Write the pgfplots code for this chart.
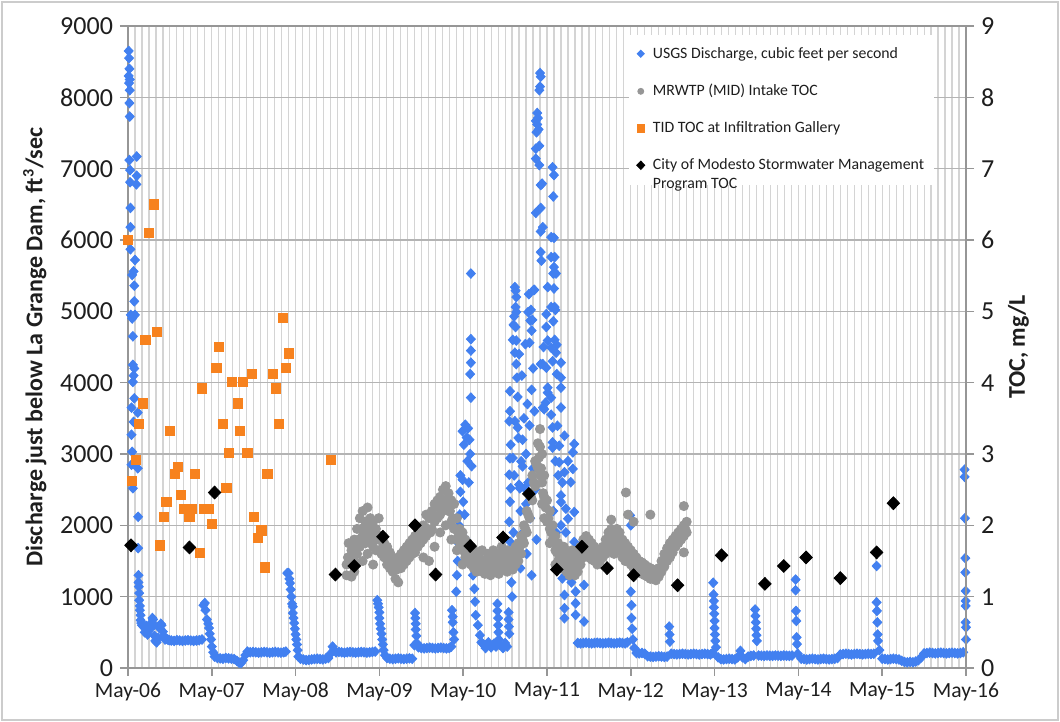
\documentclass[border=0pt]{standalone}
\usepackage{fontspec}
\setmainfont{Carlito}
\usepackage{pgfplots}
\pgfplotsset{compat=1.18}
\definecolor{usgs}{RGB}{66,128,240}
\definecolor{mrwtp}{RGB}{150,150,150}
\definecolor{tid}{RGB}{247,130,30}
\definecolor{gridmin}{RGB}{212,212,212}
\definecolor{gridmaj}{RGB}{180,180,180}
\definecolor{axc}{RGB}{150,150,150}
\definecolor{txt}{RGB}{30,30,30}

\pgfplotstableread{
m v
0.1 8650
0.15 8550
0.2 8400
0.1 8300
0.25 8250
0.15 8200
0.25 8100
0.2 7920
0.25 7730
0.2 7120
1.25 7170
0.3 6980
1.25 6900
0.3 6810
1.2 6780
0.35 6450
0.35 6180
0.35 5870
1.0 5720
0.8 5560
0.6 5510
0.9 5360
0.9 5140
0.4 4950
1.0 4950
0.6 4900
0.7 4650
0.7 4250
0.9 4200
0.8 4100
0.7 4010
0.9 3780
0.5 3650
1.4 3580
0.8 3450
0.5 3270
0.6 3030
0.5 2850
1.4 2800
0.7 2520
1.45 2120
1.45 1680
1.5 1300
1.5 1200
1.55 1140
1.6 1050
1.6 950
1.7 870
1.7 810
1.8 740
1.8 670
1.9 630
2.0 600
2.2 580
2.4 560
2.4 500
2.6 590
2.8 540
2.8 470
3.0 520
3.2 560
3.4 640
3.5 700
3.6 680
3.7 600
3.8 450
3.9 380
4.1 360
4.3 420
4.5 560
4.7 620
4.8 600
5.0 510
5.1 450
5.3 400
5.5 410
5.7 400
5.9 390
6.2 385
6.6 380
7.0 390
7.4 385
7.8 380
8.2 385
8.6 390
9.0 385
9.4 380
9.8 385
10.2 390
10.6 400
10.8 880
11.0 910
11.1 810
11.3 680
11.5 620
11.6 560
11.7 480
11.9 400
12.0 300
12.2 220
12.4 160
12.8 140
13.2 135
13.6 130
14.0 140
14.4 135
14.8 130
15.2 125
15.6 100
15.9 75
16.2 70
16.5 110
16.8 180
17.1 230
17.5 220
17.9 225
18.3 220
18.7 215
19.1 220
19.5 225
19.9 220
20.3 215
20.7 220
21.1 225
21.5 220
21.9 215
22.3 220
22.6 230
22.8 1330
23.0 1330
23.1 1250
23.2 1190
23.3 1100
23.4 1000
23.5 900
23.6 860
23.6 770
23.7 700
23.8 630
23.9 550
24.0 470
24.1 400
24.2 330
24.3 250
24.4 160
24.7 130
25.1 120
25.5 110
25.9 115
26.3 120
26.7 125
27.1 130
27.5 125
27.9 120
28.3 130
28.7 140
29.0 200
29.3 300
29.5 250
29.8 220
30.2 225
30.6 220
31.0 215
31.4 220
31.8 225
32.2 220
32.6 215
33.0 220
33.4 225
33.8 220
34.2 215
34.6 220
35.0 225
35.4 230
35.7 950
35.8 900
35.9 850
36.0 780
36.0 700
36.1 620
36.2 550
36.3 480
36.4 400
36.5 330
36.6 250
36.8 180
37.1 140
37.5 130
37.9 125
38.3 130
38.7 135
39.1 130
39.5 125
39.9 130
40.3 135
40.7 130
41.0 320
41.1 770
41.15 700
41.2 620
41.2 540
41.3 450
41.35 350
41.6 290
42.0 280
42.4 275
42.8 280
43.2 285
43.6 280
44.0 275
44.4 280
44.8 285
45.2 280
45.6 275
46.0 280
46.3 300
46.4 810
46.5 720
46.5 640
46.6 500
46.7 400
47.0 1070
47.1 1300
47.2 1500
47.3 1750
47.4 2000
47.5 2150
47.6 2470
47.6 2700
47.9 2640
48.0 2330
47.8 1900
48.2 2150
47.9 3320
48.1 3130
48.3 3410
48.5 3230
48.7 3360
48.9 3200
48.6 2900
49.0 3000
49.2 2830
48.8 2600
48.4 1800
49.1 5530
49.1 4610
49.1 4450
49.1 4280
49.0 4120
49.1 3790
49.3 1600
49.4 1300
49.6 1110
49.7 930
49.8 740
50.1 600
50.4 460
50.6 360
50.9 330
51.2 280
51.6 360
52.0 290
52.4 340
52.7 300
52.9 900
52.9 800
53.0 700
53.0 600
53.05 500
53.1 400
53.3 320
53.7 280
54.0 350
54.3 300
54.5 780
54.5 680
54.55 580
54.6 480
54.6 1440
54.7 1770
54.6 2050
54.7 2330
54.8 2520
54.6 2710
54.7 2940
54.8 3130
54.6 3460
54.7 3600
54.7 3880
54.9 1200
55.0 1000
55.0 1600
55.2 1900
55.4 5340
55.5 5290
55.6 5200
55.5 5060
55.6 4990
55.5 4780
55.6 4590
55.2 4810
55.3 4930
55.4 4420
55.6 4260
55.7 4070
55.1 4600
55.8 3800
55.4 3460
55.8 3370
55.9 3225
55.1 2944
56.0 2570
56.1 2520
55.3 2700
56.3 2897
56.5 2826
56.8 2520
56.9 4540
57.4 5240
57.6 4870
57.3 4990
57.8 4730
57.7 5020
57.9 4880
57.5 4560
58.1 5300
56.5 3200
56.7 3500
57.0 3000
57.2 3700
57.5 3400
57.8 3900
58.0 4200
58.2 3600
56.2 2200
56.6 1900
57.0 2300
57.3 2600
57.6 2100
58.0 2800
58.3 2500
56.4 4100
56.0 4400
56.2 1400
57.1 1600
57.8 1300
58.5 1800
58.6 7780
58.7 7710
58.4 7670
58.6 7620
58.5 7510
58.8 7550
58.4 7280
58.9 7320
58.4 7140
58.9 7050
58.4 6380
59.0 8340
59.1 8290
59.0 8150
58.9 8100
59.1 6770
59.1 6450
59.1 6120
59.1 5830
59.2 5710
59.1 4260
58.2 5300
59.3 6790
59.4 6180
60.8 7020
61.0 6910
60.9 6610
61.0 6030
61.1 5760
61.0 5620
60.9 5530
61.3 5530
61.0 5320
61.1 5060
61.2 5020
60.9 4860
61.1 4600
61.4 4530
61.3 4420
60.8 4300
61.4 4120
60.6 6040
60.6 5760
60.1 5340
60.6 5060
59.9 4960
59.9 4780
60.1 4590
60.6 4490
59.4 4260
59.9 4210
60.1 3930
60.6 3790
59.4 3650
60.6 3550
60.8 3090
59.5 4500
60.1 3860
59.8 3720
59.6 3628
60.8 3372
61.5 3395
60.8 3163
61.75 3116
62.5 3256
63.9 3140
63.7 3023
61.75 2884
62.5 2744
63.7 2791
63.4 2605
62.0 2419
62.0 2326
62.7 2233
63.9 2186
63.0 2093
63.9 1767
62.2 1256
62.5 1023
64.1 1070
65.3 1163
62.5 837
62.5 698
64.1 744
65.3 651
64.1 907
62.0 4070
62.0 3930
62.0 3651
62.2 2600
63.0 2900
62.7 1900
63.2 1500
62.9 1300
63.5 1200
62.4 1600
62.0 2000
61.6 2700
61.2 2900
60.9 2200
61.3 1900
62.0 4280
64.4 350
64.8 345
65.2 350
65.6 355
66.0 350
66.4 345
66.8 350
67.2 355
67.6 350
68.0 345
68.4 350
68.8 355
69.2 350
69.6 345
70.0 350
70.4 355
70.8 350
71.2 345
71.5 360
71.9 2140
72.0 2000
72.0 1070
72.1 880
72.1 700
72.2 550
72.3 400
72.5 280
72.8 210
73.2 205
73.6 210
74.0 200
74.4 165
74.8 160
75.2 155
75.6 160
76.0 165
76.4 160
76.8 155
77.2 160
77.5 580
77.55 470
77.6 370
77.8 200
78.2 195
78.6 190
79.0 195
79.4 200
79.8 195
80.2 190
80.6 195
81.0 200
81.4 195
81.8 190
82.2 195
82.6 200
83.0 195
83.4 190
83.7 210
83.8 1195
83.85 1030
83.9 940
83.9 850
83.95 760
84.0 660
84.0 560
84.05 470
84.1 380
84.2 290
84.5 150
84.9 125
85.3 120
85.7 125
86.1 130
86.5 125
86.9 120
87.3 150
87.7 240
88.0 150
88.4 125
88.8 160
89.2 170
89.6 175
89.8 820
89.85 730
89.9 640
89.95 550
90.0 460
90.05 380
90.3 175
90.7 172
91.1 170
91.5 175
91.9 172
92.3 170
92.7 175
93.1 172
93.5 170
93.9 175
94.3 172
94.7 170
95.1 175
95.6 1240
95.6 1090
95.65 800
95.7 660
95.75 430
95.8 335
95.9 200
96.4 130
96.8 125
97.2 120
97.6 125
98.0 130
98.4 125
98.8 120
99.2 125
99.6 130
100.0 125
100.4 120
100.8 125
101.2 130
101.6 140
102.0 190
102.4 195
102.8 200
103.2 195
103.6 190
104.0 195
104.4 200
104.8 195
105.2 190
105.6 195
106.0 200
106.4 195
106.8 200
107.2 1430
107.2 920
107.25 800
107.3 640
107.35 470
107.4 380
107.6 250
108.0 130
108.4 125
108.8 120
109.2 125
109.6 130
110.0 125
110.4 120
110.8 100
111.2 85
111.6 80
112.0 85
112.4 80
112.8 90
113.2 110
113.6 150
114.0 205
114.4 210
114.8 215
115.2 210
115.6 205
116.0 210
116.4 215
116.8 210
117.2 205
117.6 210
118.0 215
118.4 210
118.8 205
119.2 210
119.6 220
119.8 2780
119.8 2680
119.85 2100
119.9 1540
119.9 1340
119.95 1080
119.95 940
119.95 870
119.95 640
120.0 570
120.0 400
}\usgsdata

\pgfplotstableread{
m toc
31.3 1.30
31.3 1.45
31.6 1.75
31.6 1.55
32.0 1.28
32.0 1.65
32.4 1.35
32.4 1.50
32.4 1.80
32.8 1.60
32.8 1.95
33.2 2.10
33.2 1.70
33.6 2.20
33.6 1.85
33.6 1.50
34.0 2.05
34.0 1.75
34.3 2.25
34.3 1.95
34.3 1.60
34.7 2.10
34.7 1.80
35.1 2.05
35.1 1.70
35.1 1.45
35.5 1.95
35.5 1.65
35.9 2.10
35.9 1.80
36.3 1.85
36.3 1.60
36.7 1.75
36.7 1.55
37.1 1.70
37.1 1.45
37.5 1.62
37.5 1.40
37.9 1.55
37.9 1.35
38.3 1.50
38.3 1.25
38.7 1.55
38.7 1.20
39.1 1.60
39.1 1.40
39.5 1.65
39.5 1.45
39.9 1.70
39.9 1.50
40.3 1.75
40.3 1.55
40.7 1.80
40.7 1.60
41.1 1.85
41.1 1.62
41.5 1.90
41.5 1.70
41.9 1.95
41.9 1.75
42.3 2.00
42.3 1.80
42.3 1.55
42.7 2.15
42.7 1.85
43.1 2.10
43.1 1.90
43.1 1.50
43.5 2.20
43.5 1.95
43.9 2.30
43.9 2.05
43.9 1.70
44.3 2.35
44.3 2.10
44.7 2.40
44.7 2.15
44.7 1.90
45.1 2.50
45.1 2.25
45.5 2.55
45.5 2.30
45.5 2.00
45.9 2.45
45.9 2.20
46.3 2.35
46.3 2.05
46.3 1.80
46.7 2.30
46.7 1.95
47.1 2.10
47.1 1.80
47.1 1.65
47.5 1.95
47.5 1.70
47.9 1.90
47.9 1.65
47.9 1.45
48.3 1.80
48.3 1.55
48.7 1.75
48.7 1.50
49.1 1.70
49.1 1.45
49.5 1.65
49.5 1.40
49.9 1.60
49.9 1.35
50.3 1.55
50.3 1.40
50.7 1.65
50.7 1.35
51.1 1.50
51.1 1.32
51.5 1.60
51.5 1.38
51.9 1.55
51.9 1.30
52.3 1.65
52.3 1.40
52.7 1.55
52.7 1.35
53.1 1.60
53.1 1.32
53.5 1.70
53.5 1.45
53.9 1.60
53.9 1.38
54.3 1.65
54.3 1.35
54.7 1.55
54.7 1.40
55.1 1.62
55.1 1.38
55.5 1.70
55.5 1.45
55.9 1.75
55.9 1.50
56.3 1.85
56.3 1.60
56.7 2.00
56.7 1.75
57.1 2.20
57.1 1.90
57.5 2.45
57.5 2.10
57.9 2.70
57.9 2.35
58.3 2.90
58.3 2.55
58.7 3.15
58.7 2.80
59.0 3.35
59.0 3.10
59.0 2.70
59.3 3.00
59.3 2.60
59.3 2.30
59.6 2.70
59.6 2.40
59.6 2.10
60.0 2.35
60.0 2.05
60.4 2.20
60.4 1.95
60.4 1.75
60.8 2.00
60.8 1.80
61.2 1.85
61.2 1.65
61.2 1.45
61.6 1.75
61.6 1.50
62.0 1.65
62.0 1.40
62.4 1.70
62.4 1.45
62.8 1.60
62.8 1.35
63.2 1.55
63.2 1.30
63.6 1.65
63.6 1.40
64.0 1.55
64.0 1.30
64.4 1.60
64.4 1.35
64.8 1.70
64.8 1.45
65.2 1.80
65.2 1.55
65.6 1.85
65.6 1.60
66.0 1.80
66.0 1.55
66.4 1.75
66.4 1.52
66.8 1.70
66.8 1.50
67.2 1.65
67.2 1.45
67.6 1.60
67.6 1.50
68.0 1.70
68.0 1.55
68.4 1.80
68.4 1.60
68.8 1.90
68.8 1.65
69.2 1.95
69.2 1.70
69.2 2.08
69.6 1.85
69.6 1.60
70.0 1.95
70.0 1.70
70.4 1.90
70.4 1.65
70.8 1.80
70.8 1.55
71.2 1.75
71.2 1.50
71.3 2.46
71.6 1.70
71.6 1.55
71.6 2.15
72.0 1.65
72.0 1.45
72.4 1.60
72.4 1.40
72.4 2.05
72.8 1.55
72.8 1.38
73.2 1.50
73.2 1.35
73.6 1.48
73.6 1.32
74.0 1.45
74.0 1.30
74.4 1.42
74.4 1.28
74.8 1.40
74.8 1.25
74.8 2.15
75.2 1.38
75.2 1.25
75.6 1.35
75.6 1.23
76.0 1.40
76.0 1.28
76.4 1.50
76.4 1.35
76.8 1.60
76.8 1.42
77.2 1.68
77.2 1.50
77.6 1.75
77.6 1.55
78.0 1.80
78.0 1.62
78.4 1.85
78.4 1.70
78.8 1.90
78.8 1.75
79.2 1.95
79.2 1.80
79.6 2.00
79.6 1.85
79.6 2.27
79.6 1.62
80.0 2.05
80.0 1.90
31.5 1.55
31.8 1.50
32.2 1.55
32.6 1.70
33.0 1.80
33.4 1.95
33.8 1.90
34.1 1.95
34.5 1.95
34.9 1.85
35.3 1.80
35.7 1.85
36.1 1.85
36.5 1.70
36.9 1.62
37.3 1.55
37.7 1.48
38.1 1.42
38.5 1.38
38.9 1.42
39.3 1.52
39.7 1.58
40.1 1.62
40.5 1.68
40.9 1.72
41.3 1.75
41.7 1.82
42.1 1.85
42.5 1.85
42.9 1.95
43.3 1.90
43.7 2.10
44.1 2.10
44.5 2.25
44.9 2.20
45.3 2.35
45.7 2.30
46.1 2.20
46.5 2.10
46.9 1.95
47.3 1.85
47.7 1.75
48.1 1.68
48.5 1.65
48.9 1.60
49.3 1.55
49.7 1.50
50.1 1.48
50.5 1.50
50.9 1.45
51.3 1.45
51.7 1.45
52.1 1.48
52.5 1.48
52.9 1.45
53.3 1.52
53.7 1.55
54.1 1.50
54.5 1.48
54.9 1.50
55.3 1.55
55.7 1.60
56.1 1.70
56.5 1.80
56.9 1.95
57.3 2.15
57.7 2.40
58.1 2.60
58.5 2.85
58.85 2.95
59.15 2.80
59.45 2.45
59.8 2.25
60.2 2.10
60.6 1.90
61.0 1.78
61.4 1.62
61.8 1.58
62.2 1.55
62.6 1.52
63.0 1.45
63.4 1.48
63.8 1.45
64.2 1.45
64.6 1.55
65.0 1.62
65.4 1.70
65.8 1.70
66.2 1.65
66.6 1.62
67.0 1.58
67.4 1.55
67.8 1.60
68.2 1.68
68.6 1.75
69.0 1.80
69.4 1.80
69.8 1.78
70.2 1.80
70.6 1.72
71.0 1.65
71.4 1.62
71.8 1.58
72.2 1.52
72.6 1.48
73.0 1.45
73.4 1.42
73.8 1.40
74.2 1.36
74.6 1.34
75.0 1.32
75.4 1.30
75.8 1.32
76.2 1.40
76.6 1.48
77.0 1.55
77.4 1.62
77.8 1.68
78.2 1.75
78.6 1.80
79.0 1.85
79.4 1.90
79.8 1.95
}\mrwtpdata

\pgfplotstableread{
m toc
0 6.0
0.6 2.62
1.1 2.92
1.57 3.42
2.14 3.71
2.48 4.60
3.0 6.1
3.73 6.5
4.14 4.71
4.57 1.72
5.1 2.12
5.5 2.33
6.0 3.32
6.7 2.72
7.14 2.82
7.57 2.43
7.95 2.23
8.5 2.23
8.8 2.12
9.2 2.23
9.57 2.72
10.24 1.61
10.57 3.92
10.95 2.23
11.6 2.23
12.0 2.02
12.67 4.21
13.05 4.50
13.6 3.42
14.1 2.52
14.5 3.02
14.9 4.01
15.7 3.71
16.0 3.32
16.5 4.01
17.1 3.02
17.7 4.12
18.05 2.12
18.6 1.82
19.1 1.93
19.57 1.41
19.95 2.72
20.8 4.12
21.2 3.92
21.6 3.42
22.2 4.91
22.6 4.21
23.0 4.41
29.0 2.92
}\tiddata

\pgfplotstableread{
m toc
0.43 1.72
8.8 1.69
12.4 2.46
29.7 1.31
32.4 1.43
36.5 1.84
41.1 2.0
44.05 1.31
49.0 1.71
53.7 1.83
57.4 2.44
61.4 1.38
65.0 1.70
68.6 1.40
72.4 1.30
78.7 1.16
85.0 1.58
91.2 1.18
93.9 1.43
97.1 1.55
102.0 1.26
107.2 1.62
109.6 2.31
}\citydata

\begin{document}
\begin{tikzpicture}
\useasboundingbox (-64pt,-27pt) rectangle (466pt,334pt);
\draw[gray!40, line width=0.8pt] (-63pt,-26pt) rectangle (465pt,333pt);
\begin{axis}[
  at={(0pt,0pt)}, anchor=south west, scale only axis,
  width=419pt, height=321pt,
  xmin=0, xmax=120, ymin=0, ymax=9000,
  xtick={0,12,...,120},
  xticklabels={May-06,May-07,May-08,May-09,May-10,May-11,May-12,May-13,May-14,May-15,May-16},
  minor x tick num=11,
  ytick={0,1000,...,9000},
  xtick pos=bottom, ytick pos=left,
  tick align=outside, major tick length=4pt, minor tick length=0pt,
  xmajorgrids, xminorgrids, ymajorgrids,
  major x grid style={gridmin, line width=0.6pt},
  minor x grid style={gridmin, line width=0.6pt},
  major y grid style={gridmaj, line width=0.8pt},
  axis line style={axc, line width=0.8pt},
  tick style={axc, line width=0.8pt},
  /pgf/number format/assume math mode=true,
  /pgf/number format/1000 sep={},
  scaled y ticks=false,
  xticklabel style={font=\fontsize{10.8}{12}\selectfont, text=txt},
  yticklabel style={font=\fontsize{13}{15}\selectfont, text=txt},
  ylabel={Discharge just below La Grange Dam, ft\textsuperscript{3}/sec},
  ylabel style={font=\bfseries\fontsize{12}{14}\selectfont, text=txt},
]
\addplot[only marks, mark=diamond*, mark size=2.4pt, color=usgs, mark options={xscale=1.25}] table[x=m, y=v] {\usgsdata};
\end{axis}
\begin{axis}[
  at={(0pt,0pt)}, anchor=south west, scale only axis,
  width=419pt, height=321pt,
  xmin=0, xmax=120, ymin=0, ymax=9,
  axis x line=none, axis y line*=right,
  ytick={0,1,...,9},
  tick align=outside, major tick length=4pt,
  axis line style={axc, line width=0.8pt},
  tick style={axc, line width=0.8pt},
  /pgf/number format/assume math mode=true,
  yticklabel style={font=\fontsize{13}{15}\selectfont, text=txt},
  ylabel={TOC, mg/L},
  ylabel style={font=\bfseries\fontsize{12}{14}\selectfont, text=txt},
  legend style={at={(rel axis cs:0.597,0.986)}, anchor=north west, draw=none, fill=white,
    font=\fontsize{7.9}{9.5}\selectfont, text=txt, inner xsep=4pt, inner ysep=5pt,
    row sep=9.5pt, column sep=3pt, cells={anchor=base west}, nodes={inner sep=1pt}},
  legend image code/.code={\draw[#1] plot coordinates {(0pt,2.3pt)};},
]
\addplot[only marks, mark=*, mark size=2.3pt, color=mrwtp, forget plot] table[x=m, y=toc] {\mrwtpdata};
\addplot[only marks, mark=square*, mark size=2.3pt, color=tid, forget plot] table[x=m, y=toc] {\tiddata};
\addplot[only marks, mark=diamond*, mark size=3.2pt, color=black, mark options={xscale=1.3}, forget plot] table[x=m, y=toc] {\citydata};
\addlegendimage{only marks, mark=diamond*, mark size=1.8pt, color=usgs, mark options={xscale=1.3}}
\addlegendentry{USGS Discharge, cubic feet per second}
\addlegendimage{only marks, mark=*, mark size=1.5pt, color=mrwtp}
\addlegendentry{MRWTP (MID) Intake TOC}
\addlegendimage{only marks, mark=square*, mark size=1.9pt, color=tid}
\addlegendentry{TID TOC at Infiltration Gallery}
\addlegendimage{only marks, mark=diamond*, mark size=2.1pt, color=black, mark options={xscale=1.3}}
\addlegendentry{\vtop{\hbox{City of Modesto Stormwater Management}\hbox{Program TOC}}}
\end{axis}
\end{tikzpicture}
\end{document}
